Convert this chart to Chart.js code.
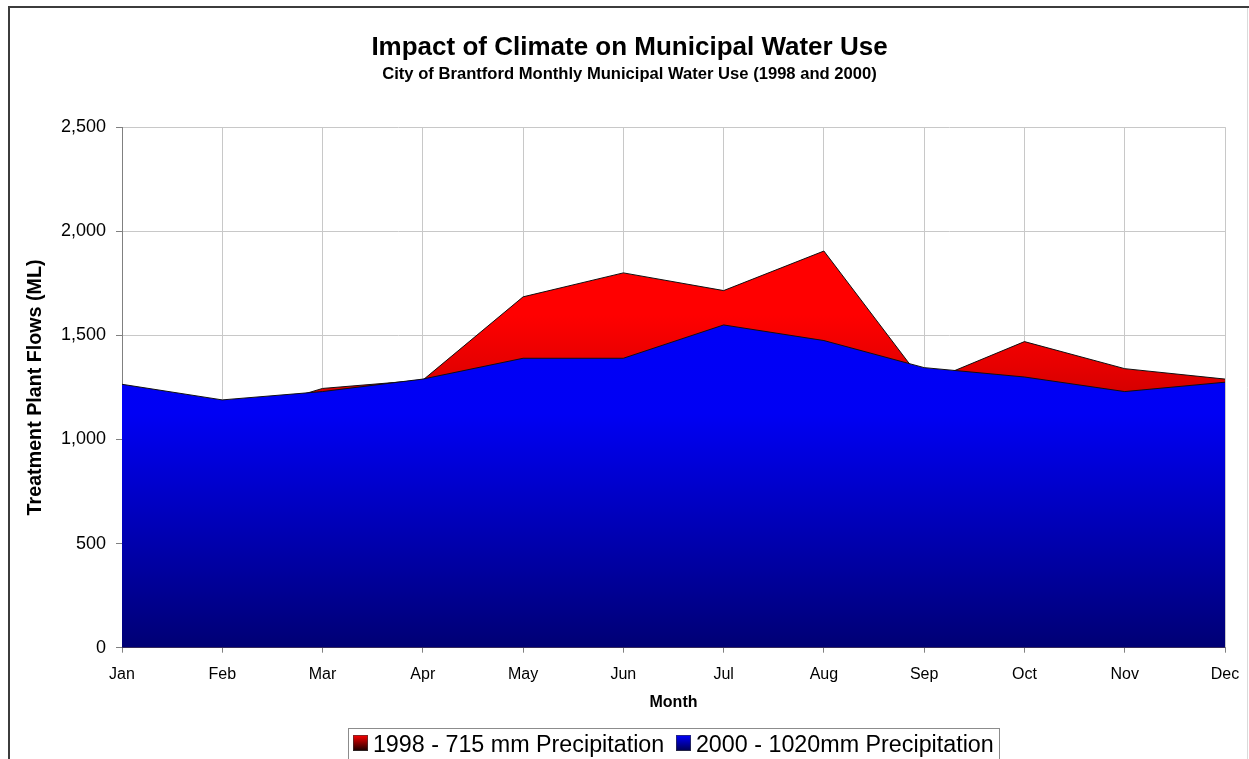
<!DOCTYPE html>
<html>
<head>
<meta charset="utf-8">
<title>Impact of Climate on Municipal Water Use</title>
<script src="https://cdn.jsdelivr.net/npm/chart.js@4.4.1/dist/chart.umd.min.js"></script>
<style>
  html, body { margin: 0; padding: 0; background: #fff; overflow: hidden; }
  #frame { width: 1249px; height: 759px; overflow: hidden; position: relative; }
  #holder { position: absolute; left: 0; top: 0; width: 1249px; height: 767px; }
</style>
</head>
<body>
<div id="frame"><div id="holder"><canvas id="waterChart"></canvas></div></div>
<script>
// Monthly treatment plant flows, City of Brantford (ML)
const months = ['Jan', 'Feb', 'Mar', 'Apr', 'May', 'Jun', 'Jul', 'Aug', 'Sep', 'Oct', 'Nov', 'Dec'];
const flows1998 = [1235, 1100, 1245, 1285, 1685, 1800, 1715, 1905, 1270, 1470, 1340, 1290];
const flows2000 = [1265, 1190, 1230, 1290, 1390, 1390, 1550, 1475, 1345, 1300, 1230, 1275];
const label1998 = '1998 - 715 mm Precipitation';
const label2000 = '2000 - 1020mm Precipitation';
const yMin = 0;
const yMax = 2500;
const yStep = 500;

const FONT = "'Liberation Sans', Arial, Helvetica, sans-serif";
Chart.defaults.font.family = FONT;
Chart.defaults.color = '#000';

// vertical fill for an area series, spread over the plot area
function areaFill(stops) {
  return (context) => {
    const chart = context.chart;
    const area = chart.chartArea;
    if (!area) return stops[0][1];
    const g = chart.ctx.createLinearGradient(0, area.top, 0, area.bottom);
    stops.forEach(([o, c]) => g.addColorStop(o, c));
    return g;
  };
}

// swatch shading per dataset index
const swatchColours = {
  0: ['#0000ff', '#000050'],   // 2000
  1: ['#ff0000', '#140000']    // 1998
};
const SWATCH_W = 15;
const SWATCH_H = 16;

const framePlugin = {
  id: 'framePlugin',
  afterLayout(chart) {
    // centre the heading lines across the whole framed page
    chart.boxes.forEach((b) => {
      if (b.position === 'top') {
        b.left = 10;
        b.right = chart.width;
        b.width = b.right - b.left;
      }
    });
  },
  beforeDraw(chart) {
    const { ctx, width, height } = chart;
    ctx.save();
    ctx.fillStyle = '#ffffff';
    ctx.fillRect(0, 0, width, height);
    ctx.strokeStyle = '#3c3c3c';
    ctx.lineWidth = 2;
    ctx.beginPath();
    ctx.moveTo(8, 7);
    ctx.lineTo(width, 7);
    ctx.moveTo(9, 6);
    ctx.lineTo(9, height);
    ctx.stroke();
    ctx.strokeStyle = '#dadada';
    ctx.lineWidth = 1;
    ctx.beginPath();
    ctx.moveTo(1247.5, 8);
    ctx.lineTo(1247.5, height);
    ctx.stroke();
    ctx.restore();

    // the legend's own boxes stay blank; shaded swatches are painted after
    const lg = chart.legend;
    if (lg && lg.legendItems) {
      lg.legendItems.forEach((item) => {
        item.fillStyle = 'rgba(0,0,0,0)';
        item.strokeStyle = 'rgba(0,0,0,0)';
        item.lineWidth = 0;
      });
    }
  },
  afterDraw(chart) {
    const lg = chart.legend;
    if (!lg || !lg.legendHitBoxes || !lg.legendHitBoxes.length) return;
    const ctx = chart.ctx;
    const boxes = lg.legendHitBoxes;
    ctx.save();
    lg.legendItems.forEach((item, i) => {
      const hb = boxes[i];
      const cols = swatchColours[item.datasetIndex];
      const x = Math.round(hb.left);
      const y = Math.round(hb.top + hb.height / 2 - 10);
      const g = ctx.createLinearGradient(0, y, 0, y + SWATCH_H);
      g.addColorStop(0, cols[0]);
      g.addColorStop(1, cols[1]);
      ctx.fillStyle = g;
      ctx.fillRect(x, y, SWATCH_W, SWATCH_H);
      ctx.strokeStyle = 'rgba(60,60,60,0.6)';
      ctx.lineWidth = 1;
      ctx.strokeRect(x + 0.5, y + 0.5, SWATCH_W - 1, SWATCH_H - 1);
    });
    const first = boxes[0];
    const last = boxes[boxes.length - 1];
    const left = Math.round(first.left - 5) + 0.5;
    const right = Math.round(last.left + last.width + 5) + 0.5;
    const top = Math.round(first.top + first.height / 2 - 17) + 0.5;
    ctx.strokeStyle = '#8c8c8c';
    ctx.lineWidth = 1;
    ctx.strokeRect(left, top, right - left, chart.height + 10 - top);
    ctx.restore();
  }
};

new Chart(document.getElementById('waterChart'), {
  type: 'line',
  data: {
    labels: months,
    datasets: [
      {
        label: label2000,
        data: flows2000,
        fill: 'origin',
        backgroundColor: areaFill([[0, '#0000ff'], [0.55, '#0000f4'], [1, '#000074']]),
        borderColor: '#101010',
        borderWidth: 1,
        pointRadius: 0,
        tension: 0
      },
      {
        label: label1998,
        data: flows1998,
        fill: 'origin',
        backgroundColor: areaFill([[0, '#ff0000'], [0.36, '#ff0000'], [0.46, '#e60000'], [1, '#300000']]),
        borderColor: '#101010',
        borderWidth: 1,
        pointRadius: 0,
        tension: 0
      }
    ]
  },
  options: {
    responsive: true,
    maintainAspectRatio: false,
    animation: false,
    events: [],
    layout: { padding: { left: 10, right: 24, top: 0, bottom: 0 } },
    plugins: {
      title: {
        display: true,
        text: 'Impact of Climate on Municipal Water Use',
        font: { size: 26, weight: 'bold' },
        color: '#000',
        padding: { top: 32, bottom: 0 }
      },
      subtitle: {
        display: true,
        text: 'City of Brantford Monthly Municipal Water Use (1998 and 2000)',
        font: { size: 16.6, weight: 'bold' },
        color: '#000',
        padding: { top: 1, bottom: 43 }
      },
      legend: {
        position: 'bottom',
        fullSize: false,
        reverse: true,
        labels: {
          boxWidth: 8,
          boxHeight: 16,
          padding: 12,
          font: { size: 23.3 },
          color: '#000'
        }
      },
      tooltip: { enabled: false }
    },
    scales: {
      x: {
        type: 'category',
        offset: false,
        grid: { color: '#c8c8c8', tickColor: '#808080', tickLength: 5, lineWidth: 1 },
        border: { color: '#808080' },
        ticks: { font: { size: 16 }, color: '#000', padding: 12, maxRotation: 0, autoSkip: false },
        title: {
          display: true,
          text: 'Month',
          font: { size: 16, weight: 'bold' },
          color: '#000',
          padding: { top: 0, bottom: 10 }
        },
        afterFit(scale) {
          scale.height = 74;
          scale.paddingLeft = 0;
          scale.paddingRight = 0;
        }
      },
      y: {
        min: yMin,
        max: yMax,
        grid: { color: '#c8c8c8', tickColor: '#808080', tickLength: 6, lineWidth: 1 },
        border: { color: '#808080' },
        ticks: {
          stepSize: yStep,
          font: { size: 18 },
          color: '#000',
          padding: 10,
          callback: (v) => Number(v).toLocaleString('en-US')
        },
        title: {
          display: true,
          text: 'Treatment Plant Flows (ML)',
          font: { size: 19.7, weight: 'bold' },
          color: '#000',
          padding: { top: 14, bottom: 0 }
        },
        afterFit(scale) { scale.width = 112; }
      }
    }
  },
  plugins: [framePlugin]
});
</script>
</body>
</html>
